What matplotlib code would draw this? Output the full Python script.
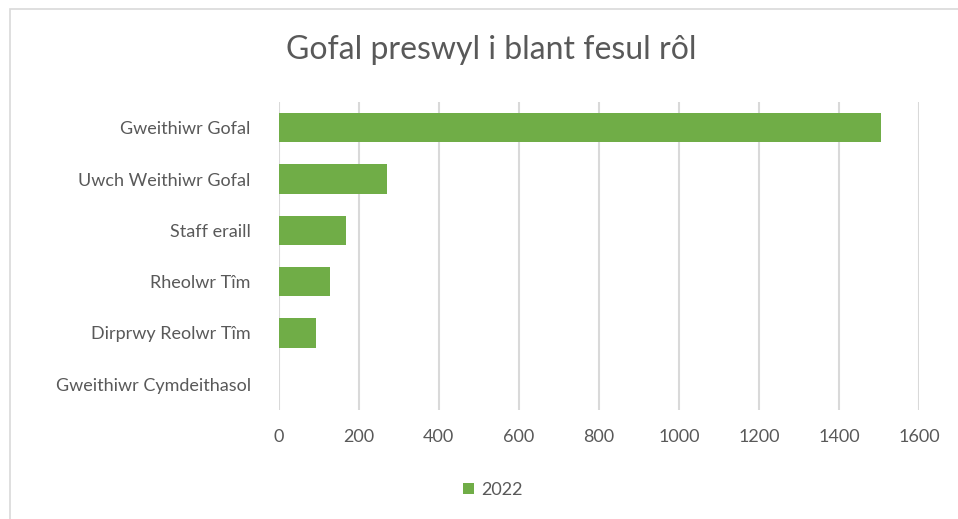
import matplotlib.pyplot as plt
from matplotlib.patches import Rectangle

# data
roles = ["Gweithiwr Gofal", "Uwch Weithiwr Gofal", "Staff eraill",
         "Rheolwr Tîm", "Dirprwy Reolwr Tîm", "Gweithiwr Cymdeithasol"]
counts_2022 = [1506, 272, 169, 129, 93, 0]
ticks = [0, 200, 400, 600, 800, 1000, 1200, 1400, 1600]

plt.rcParams['font.family'] = ['Lato', 'DejaVu Sans']
grey = "#595959"
green = "#70AD47"

fig = plt.figure(figsize=(9.58, 5.19), dpi=100)
W, H = 958, 519
ax = fig.add_axes([278.5 / W, 1 - 410 / H, (919 - 278.5) / W, (410 - 102) / H])

# chart border
fig.patches.append(Rectangle((10 / W, -0.1), 1.2, 1 - 9 / H + 0.1, transform=fig.transFigure,
                             fill=False, edgecolor="#D9D9D9", linewidth=1.2))

y = list(range(len(roles)))
ax.barh(y, counts_2022, height=0.57, color=green, label="2022", zorder=3)
ax.set_ylim(len(roles) - 0.5, -0.5)
ax.set_yticks(y)
ax.set_yticklabels(roles, fontsize=13, color=grey)
ax.set_xlim(0, 1600)
ax.set_xticks(ticks)
ax.set_xticklabels([str(t) for t in ticks], fontsize=13, color=grey)
ax.tick_params(length=0, pad=20)
ax.tick_params(axis='x', pad=14)
ax.grid(axis='x', color="#D9D9D9", linewidth=1.5, zorder=0)
for s in ax.spines.values():
    s.set_visible(False)

fig.text(491 / W, 1 - 50 / H, "Gofal preswyl i blant fesul rôl", ha='center', va='center',
         fontsize=23, color=grey)

fig.legend(loc='center', bbox_to_anchor=(493 / W, 1 - 490 / H), frameon=False, fontsize=13,
           labelcolor=grey, handlelength=0.6, handleheight=0.6, handletextpad=0.4)

fig.savefig("out.png", dpi=100)
